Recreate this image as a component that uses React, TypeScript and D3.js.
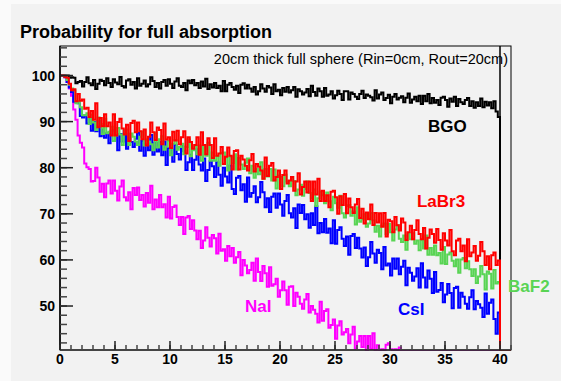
import React from "react";
import * as d3 from "d3";

const BIN_WIDTH = 0.2;
const X_MAX_HIST = 40;

const bgo = [
  100, 100, 100, 100, 99.5, 99.6, 99.5, 98.3, 98.6, 98.8,
  97.6, 98.6, 99.6, 98.3, 97.9, 99.0, 97.1, 98.2, 99.1, 98.8,
  97.9, 99.4, 98.4, 97.5, 99.2, 98.5, 98.1, 99.7, 97.7, 97.4,
  98.9, 99.2, 98.0, 98.6, 97.2, 99.4, 97.8, 98.2, 98.9, 97.6,
  98.1, 99.6, 98.8, 97.5, 98.4, 97.2, 98.6, 99.0, 97.8, 99.2,
  98.2, 97.3, 98.7, 99.4, 97.8, 97.5, 98.4, 96.8, 98.9, 98.3,
  99.0, 97.9, 98.4, 97.3, 98.7, 97.6, 99.3, 97.1, 98.1, 97.4,
  98.4, 97.3, 97.8, 96.6, 98.8, 96.6, 98.0, 98.4, 97.5, 96.9,
  97.8, 96.2, 98.0, 98.3, 97.2, 98.0, 97.2, 96.5, 97.5, 95.9,
  96.6, 98.1, 97.2, 96.5, 97.7, 97.4, 96.0, 98.1, 96.6, 96.9,
  95.7, 97.3, 96.5, 97.5, 96.3, 96.8, 97.5, 95.4, 97.0, 96.6,
  95.9, 96.3, 97.1, 95.5, 97.8, 96.4, 95.6, 97.2, 96.6, 95.4,
  97.3, 95.6, 95.9, 96.6, 95.0, 95.7, 96.7, 96.0, 94.7, 96.6,
  96.6, 94.8, 96.3, 96.0, 95.4, 94.9, 96.0, 96.7, 95.1, 95.9,
  95.6, 95.3, 94.6, 96.8, 95.0, 95.9, 96.3, 94.7, 95.1, 95.8,
  94.0, 95.4, 96.0, 94.8, 95.2, 95.5, 94.2, 95.2, 96.1, 94.1,
  94.8, 95.4, 94.4, 95.6, 93.8, 95.6, 94.4, 96.0, 94.0, 95.1,
  94.1, 94.7, 93.6, 95.2, 95.4, 94.7, 93.2, 95.0, 94.3, 95.4,
  93.4, 94.9, 94.2, 93.8, 94.7, 95.1, 93.4, 94.4, 93.0, 94.2,
  93.4, 95.0, 93.1, 94.3, 93.5, 94.2, 92.9, 94.4, 92.2, 91.0,
];

const labr3 = [
  100, 100, 99.7, 99.5, 98.2, 96.8, 97.0, 94.4, 96.0, 94.5,
  94.8, 92.8, 93.0, 91.0, 92.3, 90.4, 94.0, 88.8, 90.8, 89.0,
  91.6, 89.0, 89.8, 87.0, 91.6, 87.0, 89.9, 90.6, 88.5, 87.2,
  89.3, 85.8, 89.7, 90.2, 87.7, 89.8, 87.9, 86.2, 88.3, 84.8,
  86.7, 89.8, 87.7, 86.0, 88.7, 88.2, 85.1, 89.6, 86.1, 86.6,
  84.3, 87.8, 85.9, 88.0, 85.1, 86.6, 87.9, 83.1, 86.6, 85.6,
  84.1, 84.9, 86.6, 82.8, 87.7, 84.9, 82.9, 86.4, 84.9, 82.1,
  86.4, 82.6, 83.1, 84.5, 80.8, 82.4, 84.4, 82.6, 79.6, 83.6,
  83.8, 79.6, 82.6, 81.8, 80.4, 79.4, 81.6, 83.0, 79.2, 80.8,
  80.2, 79.4, 77.6, 82.2, 78.2, 80.4, 81.0, 77.2, 78.0, 79.4,
  75.4, 78.4, 79.4, 76.6, 77.2, 78.0, 75.0, 77.0, 78.8, 74.2,
  75.8, 77.0, 74.6, 77.0, 72.8, 77.0, 74.2, 77.6, 72.8, 75.0,
  72.8, 74.0, 71.4, 74.8, 75.0, 73.6, 70.0, 73.8, 71.9, 74.3,
  70.1, 73.3, 71.4, 70.2, 72.0, 73.2, 69.1, 71.1, 67.9, 70.3,
  68.8, 72.0, 67.6, 70.2, 68.1, 70.1, 67.2, 70.2, 65.1, 68.7,
  68.4, 66.0, 69.3, 67.5, 66.4, 69.0, 68.1, 64.3, 66.0, 67.4,
  64.5, 66.5, 68.6, 65.6, 64.5, 66.9, 62.5, 64.8, 66.6, 65.6,
  63.7, 66.7, 64.3, 62.2, 65.8, 64.2, 63.1, 66.5, 61.9, 61.0,
  64.2, 64.6, 61.9, 63.1, 59.7, 64.5, 60.8, 61.6, 63.0, 59.8,
  60.9, 63.9, 61.9, 58.9, 60.8, 58.0, 61.0, 61.6, 58.9, 59.9,
];

const baf2 = [
  100, 100, 99.8, 99.0, 98.0, 97.2, 96.8, 94.0, 94.4, 93.1,
  91.4, 91.4, 91.8, 89.5, 91.5, 89.8, 88.2, 90.9, 89.5, 87.3,
  90.6, 87.5, 87.8, 88.9, 85.8, 87.0, 88.6, 87.2, 84.9, 88.1,
  88.3, 84.9, 87.4, 86.7, 85.7, 84.9, 86.7, 87.8, 84.8, 86.1,
  85.7, 85.1, 83.8, 87.5, 84.4, 86.2, 86.8, 83.9, 84.6, 85.8,
  82.7, 85.2, 86.0, 83.9, 84.5, 85.2, 82.9, 84.5, 86.1, 82.5,
  83.8, 84.8, 82.9, 84.8, 81.5, 84.9, 82.6, 85.4, 81.5, 83.3,
  81.5, 82.5, 80.4, 83.2, 83.3, 82.2, 79.4, 82.4, 81.0, 82.9,
  79.6, 82.1, 80.7, 79.7, 81.1, 82.0, 78.8, 80.4, 77.8, 79.7,
  78.6, 81.2, 77.6, 79.7, 78.1, 79.7, 77.2, 79.6, 75.5, 78.3,
  78.0, 76.0, 78.5, 77.0, 76.0, 78.0, 77.1, 74.0, 75.3, 76.3,
  73.9, 75.4, 77.0, 74.5, 73.4, 75.3, 71.7, 73.4, 74.8, 74.0,
  72.3, 74.6, 72.7, 70.8, 73.7, 72.3, 71.3, 73.9, 70.1, 69.2,
  71.7, 71.9, 69.6, 70.5, 67.7, 71.4, 68.3, 68.8, 69.9, 67.2,
  67.9, 70.2, 68.6, 66.1, 67.4, 65.1, 67.4, 67.9, 65.6, 67.8,
  66.0, 64.2, 66.6, 67.5, 64.6, 63.9, 65.3, 62.2, 65.8, 64.5,
  65.8, 63.5, 64.2, 62.1, 64.3, 62.5, 65.3, 61.1, 62.6, 61.1,
  63.1, 61.0, 61.5, 59.2, 62.8, 59.1, 61.2, 61.6, 59.8, 58.6,
  60.1, 57.2, 60.1, 60.4, 58.2, 59.7, 58.0, 56.5, 58.0, 55.0,
  56.4, 58.7, 56.9, 53.6, 57.5, 57.0, 53.8, 57.8, 54.9, 55.2,
];

const csi = [
  100, 100, 99.6, 98.6, 97.4, 96.4, 94.3, 94.2, 94.0, 91.2,
  90.9, 91.3, 89.6, 90.8, 88.0, 89.9, 87.9, 90.2, 86.8, 88.3,
  86.5, 87.5, 85.3, 88.0, 88.1, 87.0, 83.8, 87.3, 85.7, 88.0,
  84.1, 87.3, 85.6, 84.5, 86.3, 87.6, 83.7, 85.8, 82.6, 85.1,
  83.8, 87.1, 82.8, 85.4, 83.5, 85.6, 82.7, 85.7, 80.6, 84.2,
  83.9, 81.3, 84.9, 83.0, 81.8, 84.7, 83.6, 79.5, 81.2, 82.8,
  79.5, 81.7, 84.0, 80.7, 79.4, 82.0, 77.1, 79.5, 81.4, 80.3,
  78.0, 81.2, 78.5, 76.1, 80.0, 78.1, 76.8, 80.5, 75.4, 74.3,
  77.8, 78.2, 75.1, 76.4, 72.6, 77.9, 73.7, 74.5, 76.0, 72.5,
  73.6, 76.9, 74.7, 71.4, 73.4, 70.4, 73.7, 74.4, 71.3, 74.4,
  72.0, 69.6, 72.8, 74.1, 70.1, 69.2, 71.2, 66.9, 72.0, 70.2,
  71.9, 68.8, 69.9, 67.0, 70.1, 67.6, 71.6, 65.8, 68.0, 66.0,
  68.9, 65.9, 66.8, 63.6, 68.6, 63.5, 66.5, 67.1, 64.6, 63.0,
  65.1, 61.1, 65.2, 65.6, 62.6, 64.8, 62.5, 60.5, 62.7, 58.7,
  60.6, 63.9, 61.4, 59.4, 62.2, 61.5, 58.0, 62.8, 58.8, 59.2,
  56.6, 60.3, 58.1, 60.3, 56.9, 58.5, 59.8, 54.5, 58.3, 57.2,
  55.5, 56.4, 58.2, 54.0, 59.3, 56.2, 54.0, 57.7, 55.9, 52.8,
  57.4, 53.1, 53.5, 55.0, 50.8, 52.5, 54.8, 52.8, 49.5, 53.9,
  54.2, 49.6, 52.9, 52.0, 50.5, 49.4, 51.9, 53.4, 49.3, 51.1,
  50.4, 49.6, 47.6, 52.7, 48.3, 50.7, 51.4, 47.2, 44.0, 48.6,
];

const nai = [
  100, 99.9, 99.6, 98.6, 97.2, 95.6, 92.6, 90.4, 87.0, 85.4,
  84.4, 80.9, 80.1, 79.7, 77.0, 77.1, 80.0, 77.9, 74.8, 76.5,
  73.6, 76.6, 77.2, 74.4, 77.2, 75.0, 72.9, 75.9, 77.2, 73.6,
  72.9, 74.7, 71.0, 75.6, 74.1, 75.7, 73.0, 74.1, 71.6, 74.5,
  72.4, 76.1, 71.0, 73.1, 71.4, 74.1, 71.4, 72.1, 69.2, 73.7,
  69.0, 71.5, 71.8, 69.3, 67.6, 69.3, 65.6, 69.2, 69.5, 66.7,
  68.6, 66.4, 64.5, 66.3, 62.6, 64.2, 67.1, 64.8, 62.9, 65.4,
  64.7, 61.4, 65.7, 62.0, 62.3, 59.8, 63.0, 60.8, 62.6, 59.4,
  60.6, 61.7, 56.7, 60.0, 58.8, 57.1, 57.8, 59.4, 55.5, 60.3,
  57.4, 55.4, 58.7, 57.1, 54.2, 58.4, 54.4, 54.7, 55.9, 52.0,
  53.4, 55.3, 53.4, 50.3, 54.2, 54.3, 50.0, 52.9, 52.0, 50.5,
  49.4, 51.4, 52.6, 48.6, 50.0, 49.2, 48.3, 46.4, 50.9, 46.8,
  48.9, 49.3, 45.3, 45.9, 47.1, 42.9, 45.8, 46.7, 43.8, 44.3,
  45.0, 41.9, 43.8, 45.5, 40.8, 42.3, 43.5, 41.1, 43.5, 39.3,
  43.5, 40.7, 44.1, 39.3, 41.5, 39.3, 40.6, 38.1, 41.6, 41.9,
  40.6, 36.9, 40.6, 38.7, 41.0, 36.7, 39.9, 38.1, 36.9, 38.7,
  37.2, 35.9, 37.6, 36.4, 35.8, 36.5, 35.1, 36.8, 34.9, 35.6,
  34.7, 35.9, 34.2, 35.3, 33.8, 35.0, 33.6, 34.6, 33.2, 34.4,
  33.5, 34.3, 32.8, 33.9, 32.6, 33.4, 32.2, 33.6, 32.0, 33.1,
  32.4, 33.2, 31.8, 32.7, 31.5, 32.2, 31.3, 32.5, 31.0, 31.8,
];

const seriesNames = ["BGO", "NaI", "CsI", "BaF2", "LaBr3"];
const seriesData = [bgo, nai, csi, baf2, labr3];
const seriesColors = ["#000000", "#ff00ff", "#0000ff", "#59d454", "#ff0000"];

const labelNames = ["BGO", "LaBr3", "BaF2", "CsI", "NaI"];
const labelColors = ["#000000", "#ff0000", "#59d454", "#0000ff", "#ff00ff"];
// label anchor (left, baseline) in data coordinates
const labelX = [33.45, 32.45, 40.73, 30.73, 16.82];
const labelY = [87.75, 71.55, 53.1, 48.05, 48.77];

const xTickMajor = [0, 5, 10, 15, 20, 25, 30, 35, 40];
const yTickMajor = [50, 60, 70, 80, 90, 100];

const W = 561;
const H = 381;
const FL = 60;
const FR = 511;
const FT = 46;
const FB = 350;
const X_DOMAIN: [number, number] = [0, 41];
const Y_DOMAIN: [number, number] = [40.46, 106.4];

const FONT = "'Liberation Sans', Arial, Helvetica, sans-serif";

export default function App() {
  const x = d3.scaleLinear().domain(X_DOMAIN).range([FL, FR]);
  const y = d3.scaleLinear().domain(Y_DOMAIN).range([FB, FT]);
  const ymin = Y_DOMAIN[0];
  const ymax = Y_DOMAIN[1];
  const clamp = (v: number) => Math.max(ymin - 0.2, Math.min(ymax, v));

  const line = d3
    .line<[number, number]>()
    .x((d) => x(d[0]))
    .y((d) => y(clamp(d[1])))
    .curve(d3.curveStepAfter);

  const makePts = (vals: number[]): [number, number][] => {
    const pts: [number, number][] = vals.map((v, i) => [i * BIN_WIDTH, v]);
    pts.push([X_MAX_HIST, vals[vals.length - 1]]);
    pts.push([X_MAX_HIST, ymin - 1]);
    pts.push([X_DOMAIN[1], ymin - 1]);
    return pts;
  };

  const xMinor = d3.range(0, 42, 1);
  const yMinor = d3.range(42, 107, 2);

  return (
    <svg
      width={W}
      height={H}
      style={{ position: "absolute", left: 0, top: 0 }}
      xmlns="http://www.w3.org/2000/svg"
    >
      <rect x={0} y={0} width={W} height={H} fill="#fafafa" />
      <rect x={11} y={4} width={W - 11} height={H - 4} fill="#f2f2f2" />
      <defs>
        <clipPath id="frameclip">
          <rect x={FL} y={FT} width={FR - FL} height={FB - FT + 1} />
        </clipPath>
      </defs>

      <text x={20} y={38} fontFamily={FONT} fontWeight="bold" fontSize={18} fill="#000">
        Probability for full absorption
      </text>

      <line x1={x(40)} x2={x(40)} y1={FT} y2={FB} stroke="#000" strokeWidth={1.5} />

      <g clipPath="url(#frameclip)">
        {seriesData.map((vals, k) => (
          <path
            key={seriesNames[k]}
            d={line(makePts(vals)) || ""}
            fill="none"
            stroke={seriesColors[k]}
            strokeWidth={2}
          />
        ))}
      </g>

      <rect x={FL} y={FT} width={FR - FL} height={FB - FT} fill="none" stroke="#000" strokeWidth={1} />
      <line x1={FL} x2={FL} y1={FT} y2={FB} stroke="#000" strokeWidth={1.5} />
      <line x1={FL} x2={FR} y1={FB} y2={FB} stroke="#333" strokeWidth={1.5} />

      {yMinor.map((v) => (
        <line key={"ym" + v} x1={FL} x2={FL + 7} y1={y(v)} y2={y(v)} stroke="#444" strokeWidth={1.5} />
      ))}
      {yTickMajor.map((v) => (
        <g key={"y" + v}>
          <line x1={FL} x2={FL + 13} y1={y(v)} y2={y(v)} stroke="#222" strokeWidth={1.5} />
          <text
            x={FL - 5}
            y={y(v) + 5}
            textAnchor="end"
            fontFamily={FONT}
            fontWeight="bold"
            fontSize={14}
            fill="#000"
          >
            {v}
          </text>
        </g>
      ))}

      {xMinor.map((v) => (
        <line key={"xm" + v} x1={x(v)} x2={x(v)} y1={FB} y2={FB - 5} stroke="#444" strokeWidth={1.5} />
      ))}
      {xTickMajor.map((v) => (
        <g key={"x" + v}>
          <line x1={x(v)} x2={x(v)} y1={FB} y2={FB - 9} stroke="#222" strokeWidth={1.5} />
          <text
            x={x(v)}
            y={FB + 14}
            textAnchor="middle"
            fontFamily={FONT}
            fontWeight="bold"
            fontSize={14}
            fill="#000"
          >
            {v}
          </text>
        </g>
      ))}

      <text x={508} y={64} textAnchor="end" fontFamily={FONT} fontSize={14.5} fill="#000">
        20cm thick full sphere (Rin=0cm, Rout=20cm)
      </text>

      {labelNames.map((n, k) => (
        <text
          key={n}
          x={x(labelX[k])}
          y={y(labelY[k])}
          fontFamily={FONT}
          fontWeight="bold"
          fontSize={17}
          fill={labelColors[k]}
        >
          {n}
        </text>
      ))}
    </svg>
  );
}
